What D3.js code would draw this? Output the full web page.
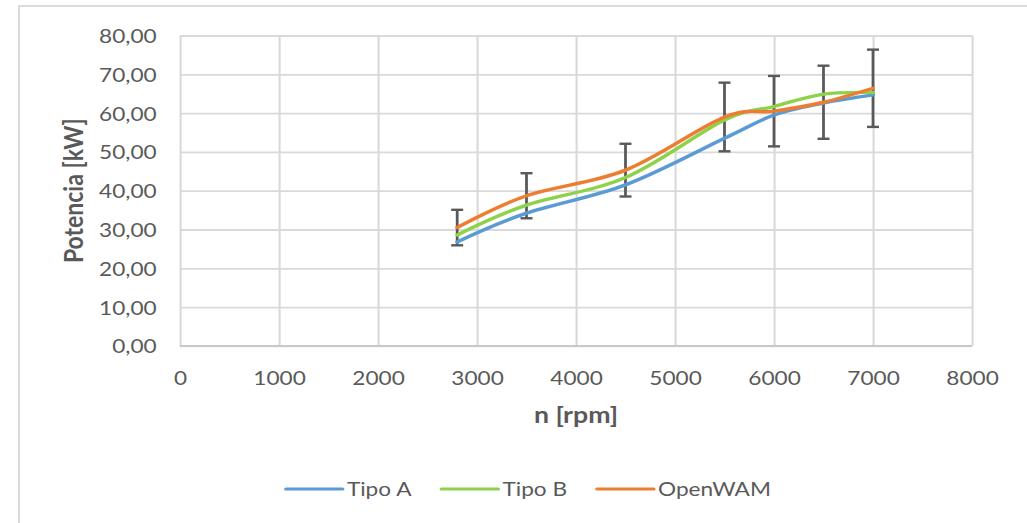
<!DOCTYPE html>
<html>
<head>
<meta charset="utf-8">
<script src="https://cdn.jsdelivr.net/npm/d3@7"></script>
<style>
  html, body { margin: 0; padding: 0; background: #fff; }
  svg { display: block; }
  text { font-family: Lato, "Open Sans", sans-serif; fill: #595959; }
</style>
</head>
<body>
<div id="chart"></div>
<script>
// Engine speed (rpm) at which power was measured / simulated
const rpm = [2800, 3500, 4500, 5500, 6000, 6500, 7000];
// Power [kW] per model
const tipoA   = [26.8, 34.2, 41.5, 53.5, 59.5, 62.6, 64.7];
const tipoB   = [28.6, 36.3, 43.4, 58.2, 61.7, 64.9, 65.3];
const openWAM = [30.5, 38.7, 45.3, 59.0, 60.5, 62.8, 66.4];
// Error bars on the OpenWAM series: percentage of the value
const errorPct = 15;

const seriesNames  = ["Tipo A", "Tipo B", "OpenWAM"];
const seriesValues = [tipoA, tipoB, openWAM];
const seriesColors = ["#5B9BD5", "#8ED14B", "#ED7D31"];

const xTicks = [0, 1000, 2000, 3000, 4000, 5000, 6000, 7000, 8000];
const yTicks = [0, 10, 20, 30, 40, 50, 60, 70, 80];

const xTitle = "n [rpm]";
const yTitle = "Potencia [kW]";

// The chart is laid out in a narrower coordinate space and stretched
// horizontally to the full page width.
const W = 1027, H = 523, stretch = 1.16;
const VW = W / stretch;

const svg = d3.select("#chart").append("svg")
  .attr("width", W).attr("height", H)
  .attr("viewBox", `0 0 ${VW} ${H}`)
  .attr("preserveAspectRatio", "none");

// chart frame
svg.append("rect")
  .attr("x", 19 / stretch).attr("y", 6)
  .attr("width", VW + 20).attr("height", H + 20)
  .attr("fill", "#fff").attr("stroke", "#d9d9d9").attr("stroke-width", 1.8);

const plot = { left: 180 / stretch, right: 972 / stretch, top: 35.5, bottom: 345.9 };

const x = d3.scaleLinear().domain([0, 8000]).range([plot.left, plot.right]);
const y = d3.scaleLinear().domain([0, 80]).range([plot.bottom, plot.top]);

const comma = d3.formatLocale({ decimal: ",", thousands: ".", grouping: [3], currency: ["", ""] });
const fmtY = comma.format(".2f");
const fmtX = d3.format("d");

// horizontal gridlines + y labels
const yAxis = svg.append("g")
  .attr("transform", `translate(${plot.left},0)`)
  .call(d3.axisLeft(y).tickValues(yTicks).tickFormat(fmtY)
    .tickSize(-(plot.right - plot.left)).tickPadding(0));
yAxis.select(".domain").remove();
yAxis.selectAll(".tick line").attr("stroke", "#d9d9d9").attr("stroke-width", 1.8);
yAxis.selectAll(".tick text")
  .attr("x", 156.7 / stretch - plot.left).attr("dy", null).attr("y", 7)
  .attr("text-anchor", "end")
  .style("font-family", "Lato, 'Open Sans', sans-serif")
  .style("font-size", "19.5px").attr("fill", "#595959");

// vertical gridlines + x labels
const xAxis = svg.append("g")
  .attr("transform", `translate(0,${plot.bottom})`)
  .call(d3.axisBottom(x).tickValues(xTicks).tickFormat(fmtX)
    .tickSize(-(plot.bottom - plot.top)).tickPadding(0));
xAxis.select(".domain").remove();
xAxis.selectAll(".tick line").attr("stroke", "#d9d9d9").attr("stroke-width", 1.8);
xAxis.selectAll(".tick text")
  .attr("y", 385 - plot.bottom).attr("dy", null)
  .attr("text-anchor", "middle")
  .style("font-family", "Lato, 'Open Sans', sans-serif")
  .style("font-size", "19.5px").attr("fill", "#595959");

// horizontal axis line at zero
svg.append("line")
  .attr("x1", x(0)).attr("x2", x(8000))
  .attr("y1", y(0)).attr("y2", y(0))
  .attr("stroke", "#c6c6c6").attr("stroke-width", 1.8);

// axis titles
svg.append("text")
  .attr("x", (plot.left + plot.right) / 2).attr("y", 423)
  .attr("text-anchor", "middle")
  .style("font-size", "23px").style("font-weight", "bold")
  .text(xTitle);

svg.append("text")
  .attr("transform", `translate(${83 / stretch},${(plot.top + plot.bottom) / 2}) rotate(-90)`)
  .attr("text-anchor", "middle")
  .style("font-size", "23px").style("font-weight", "bold")
  .text(yTitle);

// error bars on OpenWAM
const capHalf = 6 / stretch;
const eb = svg.append("g").attr("stroke", "#595959").attr("stroke-width", 2.4).attr("fill", "none");
rpm.forEach((r, i) => {
  const v = openWAM[i], e = v * errorPct / 100;
  const cx = x(r);
  eb.append("line").attr("x1", cx).attr("x2", cx).attr("y1", y(v - e)).attr("y2", y(v + e));
  eb.append("line").attr("x1", cx - capHalf).attr("x2", cx + capHalf).attr("y1", y(v + e)).attr("y2", y(v + e));
  eb.append("line").attr("x1", cx - capHalf).attr("x2", cx + capHalf).attr("y1", y(v - e)).attr("y2", y(v - e));
});

// smoothed series lines
const line = d3.line()
  .x(d => x(d[0])).y(d => y(d[1]))
  .curve(d3.curveCardinal);

seriesValues.forEach((vals, k) => {
  svg.append("path")
    .datum(rpm.map((r, i) => [r, vals[i]]))
    .attr("d", line)
    .attr("fill", "none")
    .attr("stroke", seriesColors[k])
    .attr("stroke-width", 3.4)
    .attr("stroke-linecap", "round")
    .attr("stroke-linejoin", "round");
});

// legend
const legLine = 56.7 / stretch, legGapText = 4.3 / stretch, legGapItem = 30 / stretch;
const legY = 489, legCenter = 528.4 / stretch;
const legend = svg.append("g");
const items = seriesNames.map((name, k) => {
  const g = legend.append("g");
  g.append("line").attr("x1", 0).attr("x2", legLine).attr("y1", legY).attr("y2", legY)
    .attr("stroke", seriesColors[k]).attr("stroke-width", 3.2).attr("stroke-linecap", "round");
  const t = g.append("text").attr("x", legLine + legGapText).attr("y", legY + 7)
    .style("font-size", "19.5px").text(name);
  return { g, w: legLine + legGapText + t.node().getComputedTextLength() };
});
const total = d3.sum(items, d => d.w) + legGapItem * (items.length - 1);
let cursor = legCenter - total / 2;
items.forEach(it => {
  it.g.attr("transform", `translate(${cursor},0)`);
  cursor += it.w + legGapItem;
});
</script>
</body>
</html>
